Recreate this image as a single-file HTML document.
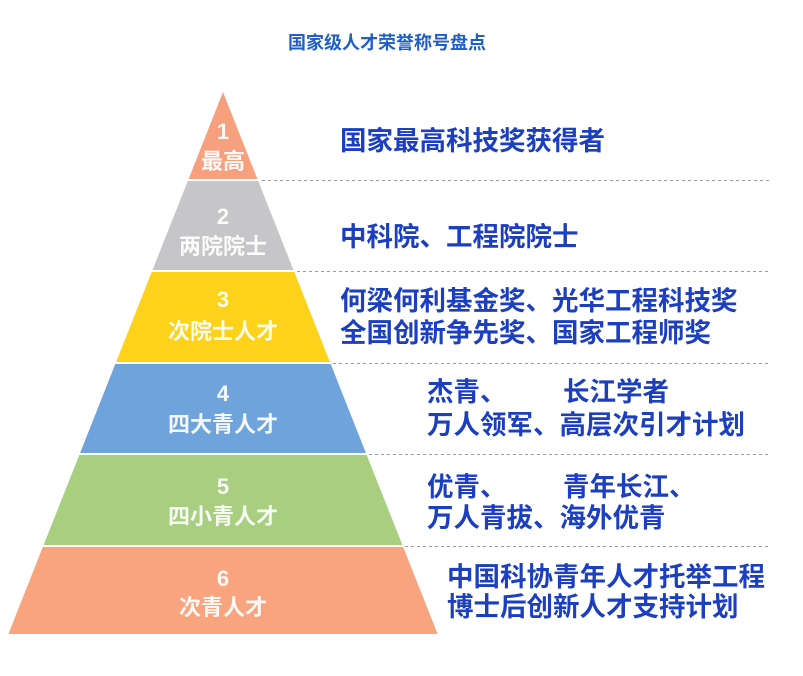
<!DOCTYPE html>
<html><head><meta charset="utf-8"><style>
html,body{margin:0;padding:0;background:#fff;}
svg{display:block;}
</style></head><body>
<svg width="803" height="676" viewBox="0 0 803 676" xmlns="http://www.w3.org/2000/svg" font-family="Liberation Sans, Noto Sans CJK SC, sans-serif" font-weight="bold">
<text x="387" y="49" text-anchor="middle" font-size="18" fill="#1f5fc4">国家级人才荣誉称号盘点</text>
<polygon points="223,92 257.4,179 188.6,179" fill="#F6A07E"/>
<polygon points="187.8,181 258.2,181 293.5,270 152.5,270" fill="#C6C6C8"/>
<polygon points="151.7,272 294.3,272 329.9,362 116.1,362" fill="#FDD21B"/>
<polygon points="115.3,364 330.7,364 365.9,453 80.1,453" fill="#6EA4DB"/>
<polygon points="79.3,455 366.7,455 402.4,545 43.6,545" fill="#A8CE80"/>
<polygon points="42.8,547 403.2,547 437.6,634 8.4,634" fill="#F8A47E"/>
<g stroke="#999" stroke-width="1" stroke-dasharray="3,3">
<line x1="262" y1="180.5" x2="770" y2="180.5"/>
<line x1="297" y1="271.5" x2="770" y2="271.5"/>
<line x1="333" y1="363.5" x2="770" y2="363.5"/>
<line x1="369" y1="454.5" x2="770" y2="454.5"/>
<line x1="405" y1="546.5" x2="770" y2="546.5"/>
</g>
<g fill="#fff" text-anchor="middle" font-size="22" fill-opacity="0.92">
<text x="223" y="139">1</text><text x="223" y="169">最高</text>
<text x="223" y="224">2</text><text x="223" y="254">两院院士</text>
<text x="223" y="307">3</text><text x="223" y="339">次院士人才</text>
<text x="223" y="401">4</text><text x="223" y="432">四大青人才</text>
<text x="223" y="494">5</text><text x="223" y="524">四小青人才</text>
<text x="223" y="586">6</text><text x="223" y="615">次青人才</text>
</g>
<g fill="#1b3fbf" font-size="26.5">
<text x="340" y="150">国家最高科技奖获得者</text>
<text x="340" y="246">中科院、工程院院士</text>
<text x="340" y="310">何梁何利基金奖、光华工程科技奖</text>
<text x="340" y="342">全国创新争先奖、国家工程师奖</text>
<text x="427" y="401">杰青、</text><text x="563" y="401">长江学者</text>
<text x="427" y="434">万人领军、高层次引才计划</text>
<text x="427" y="496">优青、</text><text x="563" y="496">青年长江、</text>
<text x="427" y="527">万人青拔、海外优青</text>
<text x="447" y="586">中国科协青年人才托举工程</text>
<text x="447" y="616">博士后创新人才支持计划</text>
</g>
</svg>
</body></html>
